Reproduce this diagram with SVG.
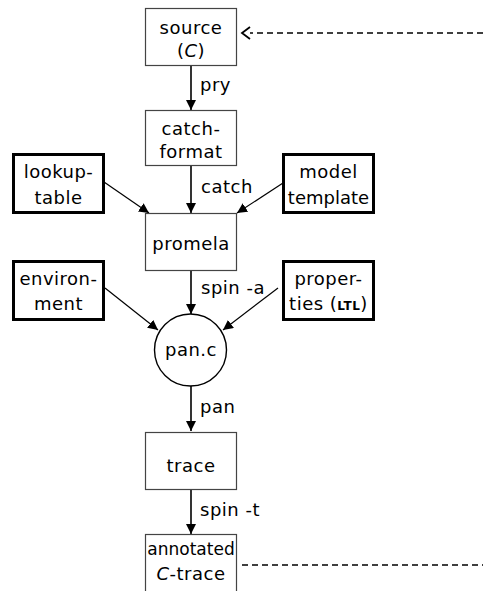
<svg xmlns="http://www.w3.org/2000/svg" width="483" height="591" viewBox="0 0 483 591">
<style>
text{font-family:"DejaVu Sans","Liberation Sans",sans-serif;font-size:18px;letter-spacing:0.5px;fill:#000;text-anchor:middle}
.lbl{text-anchor:start}
.thin{fill:#fff;stroke:#444;stroke-width:1.2}
.thick{fill:#fff;stroke:#000;stroke-width:3}
.ed{stroke:#000;stroke-width:1.6;fill:none}
.dg{stroke:#000;stroke-width:1.2;fill:none}
.dash{stroke:#000;stroke-width:1.3;fill:none;stroke-dasharray:6 4}
.sc{font-size:12px;font-weight:bold}
</style>
<defs>
<marker id="ah" markerUnits="userSpaceOnUse" markerWidth="12" markerHeight="12" refX="10" refY="5" orient="auto">
<path d="M0,0 L10,5 L0,10 Z" fill="#000"/>
</marker>
<marker id="oh" markerUnits="userSpaceOnUse" markerWidth="12" markerHeight="16" refX="1" refY="7" orient="auto">
<path d="M1,1 L9,7 L1,13" fill="none" stroke="#000" stroke-width="1.8"/>
</marker>
</defs>
<g id="connectors">
<line class="dash" x1="483" y1="33" x2="250" y2="33" marker-end="url(#oh)"/>
<line class="dash" x1="242" y1="565" x2="483" y2="565"/>
<line class="ed" x1="191" y1="66" x2="191" y2="110" marker-end="url(#ah)"/>
<line class="ed" x1="191" y1="166" x2="191" y2="213" marker-end="url(#ah)"/>
<line class="dg" x1="104" y1="182" x2="149" y2="213" marker-end="url(#ah)"/>
<line class="dg" x1="283" y1="183" x2="237" y2="213" marker-end="url(#ah)"/>
<line class="ed" x1="191" y1="271" x2="191" y2="314" marker-end="url(#ah)"/>
<line class="dg" x1="105" y1="288" x2="158" y2="330" marker-end="url(#ah)"/>
<line class="dg" x1="278" y1="288" x2="223" y2="330" marker-end="url(#ah)"/>
<line class="ed" x1="191" y1="386" x2="191" y2="431" marker-end="url(#ah)"/>
<line class="ed" x1="191" y1="489" x2="191" y2="534" marker-end="url(#ah)"/>
<text class="lbl" x="200" y="91">pry</text>
<text class="lbl" x="201" y="193">catch</text>
<text class="lbl" x="201" y="294">spin -a</text>
<text class="lbl" x="200" y="413">pan</text>
<text class="lbl" x="200" y="516">spin -t</text>
</g>
<g id="source">
<rect class="thin" x="145.5" y="8.5" width="91" height="57"/>
<text x="191" y="34">source</text>
<text x="191" y="57">(<tspan font-style="italic">C</tspan>)</text>
</g>
<g id="catch-format">
<rect class="thin" x="145.5" y="110.5" width="91" height="55"/>
<text x="191" y="135">catch-</text>
<text x="191" y="158">format</text>
</g>
<g id="lookup-table">
<rect class="thick" x="13.5" y="154.5" width="90" height="58"/>
<text x="58.5" y="178">lookup-</text>
<text x="58.5" y="204">table</text>
</g>
<g id="model-template">
<rect class="thick" x="283.5" y="154.5" width="90" height="58"/>
<text x="328.5" y="178">model</text>
<text x="328.5" y="204" style="letter-spacing:0">template</text>
</g>
<g id="promela">
<rect class="thin" x="145.5" y="213.5" width="91" height="57"/>
<text x="191" y="250">promela</text>
</g>
<g id="environment">
<rect class="thick" x="13.5" y="261.5" width="90" height="58"/>
<text x="58.5" y="285">environ-</text>
<text x="58.5" y="310">ment</text>
</g>
<g id="properties">
<rect class="thick" x="283.5" y="261.5" width="90" height="58"/>
<text x="328.5" y="285">proper-</text>
<text x="328.5" y="310">ties (<tspan class="sc">LTL</tspan>)</text>
</g>
<g id="pan.c">
<circle cx="190.5" cy="350" r="36" fill="#fff" stroke="#000" stroke-width="1.4"/>
<text x="191" y="356">pan.c</text>
</g>
<g id="trace">
<rect class="thin" x="145.5" y="432.5" width="91" height="57"/>
<text x="191" y="472">trace</text>
</g>
<g id="annotated-c-trace">
<rect class="thin" x="145.5" y="534.5" width="91" height="70"/>
<text x="191" y="555" style="font-size:17px;letter-spacing:0">annotated</text>
<text x="191" y="580"><tspan font-style="italic">C</tspan>-trace</text>
</g>
</svg>
